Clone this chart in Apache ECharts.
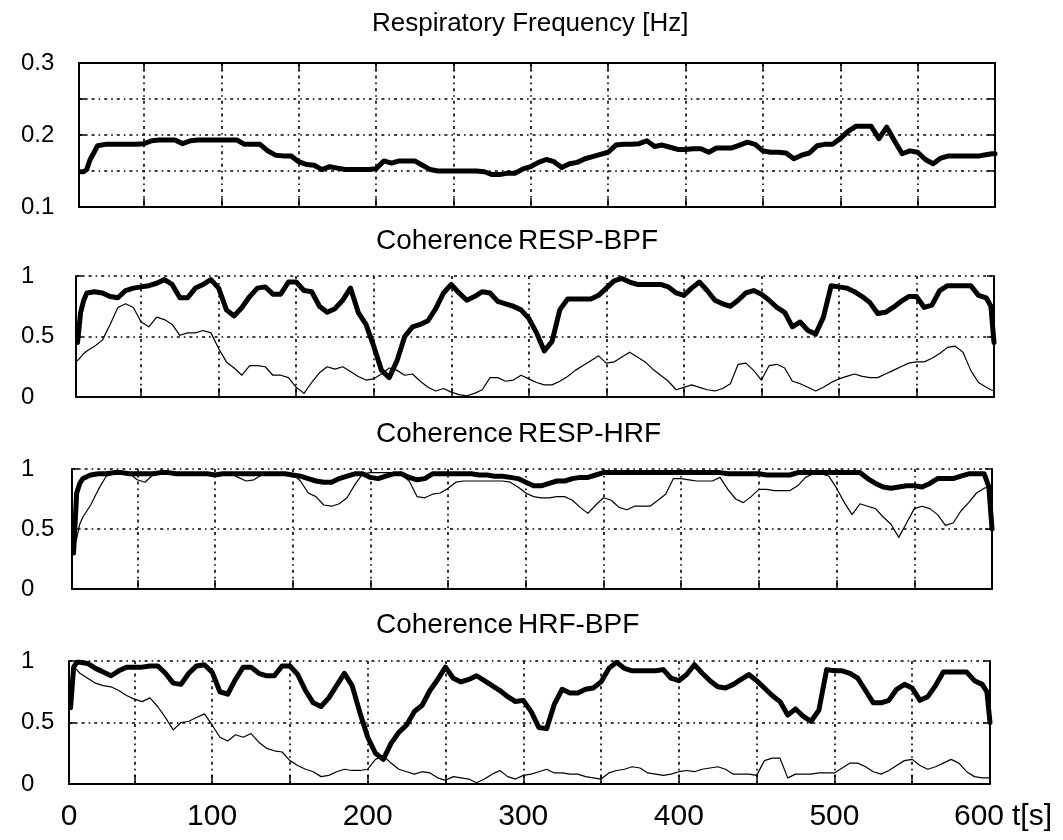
<!DOCTYPE html>
<html><head><meta charset="utf-8">
<script src="https://cdn.jsdelivr.net/npm/echarts@6/dist/echarts.min.js"></script>
<style>html,body{margin:0;padding:0;background:#fff}#c{width:1063px;height:840px}</style>
</head><body><div id="c"></div>
<script>
// time axis [s]
const time = [9,11,13,15,
 20,25,30,35,40,45,50,55,60,65, 70,75,80,85,90,95,100,105,110,115,
 120,125,130,135,140,145,150,155,160,165, 170,175,180,185,190,195,200,205,210,215,
 220,225,230,235,240,245,250,255,260,265, 270,275,280,285,290,295,300,305,310,315,
 320,325,330,335,340,345,350,355,360,365, 370,375,380,385,390,395,400,405,410,415,
 420,425,430,435,440,445,450,455,460,465, 470,475,480,485,490,495,500,505,510,515,
 520,525,530,535,540,545,550,555,560,565, 570,575,580,585,590,595, 598,600];

// Respiratory frequency [Hz]
const respFreq = [0.149,0.149,0.152,0.165,
 0.185,0.187,0.187,0.187,0.187,0.187,0.188,0.192,0.193,0.193,
 0.193,0.188,0.192,0.193,0.193,0.193,0.193,0.193,0.193,0.187,
 0.187,0.187,0.178,0.172,0.171,0.171,0.163,0.159,0.158,0.152,
 0.156,0.154,0.152,0.152,0.152,0.152,0.153,0.164,0.161,0.164,
 0.164,0.164,0.158,0.152,0.150,0.150,0.150,0.150,0.150,0.150,
 0.149,0.145,0.145,0.147,0.147,0.153,0.156,0.162,0.166,0.163,
 0.155,0.160,0.162,0.167,0.170,0.173,0.176,0.186,0.187,0.187,
 0.188,0.192,0.184,0.186,0.183,0.180,0.180,0.181,0.181,0.176,
 0.182,0.182,0.182,0.186,0.190,0.187,0.178,0.176,0.176,0.175,
 0.167,0.172,0.175,0.185,0.187,0.187,0.195,0.205,0.212,0.212,
 0.212,0.195,0.211,0.192,0.174,0.178,0.176,0.166,0.160,0.168,
 0.171,0.171,0.171,0.171,0.171,0.173, 0.174,0.174];

// Coherence RESP-BPF
const respBpfHeavy = [0.45,0.70,0.80,0.86,
 0.87,0.86,0.83,0.82,0.88,0.90,0.91,0.92,0.94,0.97,
 0.93,0.82,0.82,0.90,0.93,0.97,0.90,0.72,0.67,0.74,
 0.83,0.90,0.91,0.85,0.85,0.95,0.95,0.88,0.87,0.75,
 0.70,0.73,0.80,0.90,0.70,0.60,0.42,0.22,0.16,0.30,
 0.50,0.58,0.60,0.63,0.73,0.86,0.93,0.86,0.80,0.83,
 0.87,0.86,0.79,0.77,0.75,0.72,0.65,0.53,0.38,0.46,
 0.72,0.81,0.81,0.81,0.81,0.84,0.90,0.96,0.98,0.95,
 0.93,0.93,0.93,0.93,0.91,0.86,0.84,0.90,0.95,0.88,
 0.80,0.77,0.75,0.80,0.86,0.88,0.85,0.80,0.74,0.70,
 0.58,0.62,0.55,0.52,0.66,0.92,0.91,0.90,0.87,0.83,
 0.78,0.69,0.70,0.74,0.79,0.83,0.83,0.74,0.76,0.88,
 0.92,0.92,0.92,0.92,0.84,0.82, 0.75,0.45];
const respBpfThin = [0.30,0.33,0.36,0.38,
 0.42,0.47,0.60,0.74,0.77,0.74,0.62,0.58,0.66,0.64,
 0.60,0.51,0.53,0.53,0.55,0.53,0.40,0.29,0.24,0.18,
 0.26,0.26,0.25,0.18,0.18,0.16,0.08,0.03,0.12,0.20,
 0.25,0.23,0.25,0.21,0.17,0.14,0.15,0.19,0.24,0.22,
 0.18,0.19,0.13,0.08,0.05,0.07,0.04,0.02,0.01,0.03,
 0.06,0.16,0.16,0.13,0.14,0.18,0.15,0.12,0.10,0.10,
 0.13,0.17,0.22,0.26,0.30,0.34,0.28,0.29,0.33,0.37,
 0.33,0.29,0.23,0.18,0.13,0.06,0.08,0.10,0.08,0.06,
 0.05,0.07,0.11,0.27,0.28,0.22,0.14,0.26,0.27,0.24,
 0.13,0.11,0.08,0.05,0.08,0.12,0.15,0.17,0.19,0.17,
 0.16,0.16,0.19,0.22,0.25,0.28,0.29,0.29,0.32,0.36,
 0.41,0.42,0.37,0.22,0.12,0.08, 0.06,0.05];

// Coherence RESP-HRF
const respHrfHeavy = [0.30,0.80,0.88,0.92,
 0.95,0.96,0.96,0.97,0.97,0.96,0.96,0.96,0.96,0.97,
 0.97,0.96,0.96,0.96,0.96,0.96,0.95,0.96,0.96,0.96,
 0.96,0.96,0.96,0.96,0.96,0.96,0.95,0.94,0.92,0.90,
 0.89,0.89,0.92,0.94,0.96,0.96,0.93,0.92,0.94,0.96,
 0.96,0.93,0.91,0.92,0.96,0.96,0.96,0.96,0.96,0.96,
 0.95,0.95,0.94,0.94,0.93,0.92,0.89,0.86,0.86,0.88,
 0.90,0.90,0.92,0.93,0.93,0.95,0.97,0.97,0.97,0.97,
 0.97,0.97,0.97,0.97,0.97,0.97,0.97,0.97,0.97,0.97,
 0.97,0.97,0.96,0.96,0.96,0.96,0.96,0.95,0.95,0.95,
 0.95,0.97,0.97,0.97,0.97,0.97,0.97,0.97,0.97,0.97,
 0.92,0.88,0.85,0.84,0.85,0.86,0.86,0.85,0.88,0.92,
 0.92,0.92,0.94,0.96,0.96,0.96, 0.85,0.50];
const respHrfThin = [0.35,0.42,0.54,0.60,
 0.70,0.83,0.94,0.96,0.97,0.96,0.91,0.89,0.95,0.96,
 0.96,0.96,0.96,0.96,0.96,0.96,0.96,0.96,0.96,0.93,
 0.90,0.91,0.95,0.96,0.96,0.96,0.96,0.90,0.80,0.77,
 0.70,0.69,0.71,0.76,0.87,0.96,0.97,0.97,0.97,0.97,
 0.95,0.90,0.77,0.76,0.79,0.80,0.84,0.89,0.90,0.90,
 0.90,0.90,0.90,0.90,0.89,0.85,0.80,0.77,0.76,0.76,
 0.77,0.77,0.74,0.68,0.63,0.70,0.76,0.74,0.68,0.66,
 0.69,0.69,0.69,0.74,0.79,0.92,0.92,0.91,0.90,0.90,
 0.90,0.93,0.83,0.75,0.72,0.77,0.83,0.83,0.82,0.82,
 0.82,0.86,0.93,0.96,0.96,0.94,0.84,0.72,0.62,0.71,
 0.69,0.67,0.60,0.54,0.43,0.55,0.67,0.69,0.67,0.62,
 0.53,0.55,0.65,0.72,0.80,0.84, 0.85,0.75];

// Coherence HRF-BPF
const hrfBpfHeavy = [0.62,0.95,0.99,0.99,
 0.98,0.94,0.91,0.88,0.92,0.95,0.95,0.95,0.96,0.96,
 0.90,0.82,0.81,0.90,0.96,0.97,0.91,0.75,0.73,0.85,
 0.95,0.95,0.90,0.88,0.88,0.96,0.96,0.89,0.76,0.66,
 0.63,0.70,0.80,0.90,0.80,0.58,0.38,0.25,0.20,0.33,
 0.42,0.48,0.59,0.64,0.76,0.85,0.95,0.86,0.83,0.85,
 0.88,0.84,0.80,0.76,0.71,0.67,0.68,0.59,0.46,0.45,
 0.65,0.77,0.74,0.74,0.77,0.78,0.83,0.94,0.99,0.94,
 0.92,0.92,0.92,0.92,0.93,0.86,0.84,0.89,0.97,0.90,
 0.84,0.79,0.78,0.81,0.85,0.89,0.84,0.78,0.72,0.67,
 0.56,0.61,0.55,0.51,0.60,0.93,0.92,0.92,0.90,0.86,
 0.76,0.66,0.66,0.68,0.77,0.81,0.78,0.68,0.71,0.80,
 0.91,0.91,0.91,0.91,0.84,0.81, 0.75,0.50];
const hrfBpfThin = [0.75,0.95,0.93,0.90,
 0.86,0.82,0.80,0.79,0.76,0.72,0.69,0.67,0.70,0.63,
 0.54,0.44,0.50,0.51,0.54,0.57,0.48,0.38,0.35,0.40,
 0.38,0.41,0.34,0.29,0.27,0.26,0.19,0.15,0.12,0.10,
 0.06,0.07,0.10,0.12,0.11,0.11,0.12,0.20,0.23,0.17,
 0.12,0.10,0.08,0.10,0.09,0.05,0.03,0.06,0.05,0.04,
 0.01,0.04,0.08,0.11,0.06,0.04,0.07,0.08,0.10,0.12,
 0.09,0.09,0.08,0.08,0.06,0.05,0.04,0.09,0.11,0.12,
 0.14,0.13,0.09,0.08,0.07,0.08,0.10,0.11,0.10,0.12,
 0.13,0.14,0.12,0.08,0.08,0.08,0.07,0.19,0.21,0.21,
 0.05,0.08,0.08,0.08,0.09,0.09,0.09,0.13,0.17,0.17,
 0.14,0.10,0.08,0.11,0.15,0.19,0.20,0.15,0.12,0.14,
 0.17,0.20,0.17,0.10,0.06,0.05, 0.05,0.05];

// ticks and labels
const xTickValues = [50,100,150,200,250,300,350,400,450,500,550];
const xLabelValues = [8,100,200,300,400,500,600];
const xLabelTexts = ['0','100','200','300','400','500','600'];
const xUnit = 't[s]';
const freqTickValues = [0.1,0.2,0.3];
const freqTickTexts = ['0.1','0.2','0.3'];
const cohTickValues = [0,0.5,1];
const cohTickTexts = ['0','0.5','1'];
const titleMain = 'Respiratory Frequency [Hz]';
const titlePrefix = 'Coherence';
const titlePairs = ['RESP-BPF','RESP-HRF','HRF-BPF'];

const FONT = '"Liberation Sans", Arial, sans-serif';
const X_MIN = 8, X_MAX = 600;

const panels = [
  {l:79, t:63, r:995, b:207, yMin:0.1, yMax:0.3, yInt:0.05, lv:freqTickValues, lt:freqTickTexts, topLine:true,
   series:[[respFreq,5]]},
  {l:76, t:276, r:994, b:397, yMin:0, yMax:1, yInt:0.5, lv:cohTickValues, lt:cohTickTexts, topLine:false,
   series:[[respBpfThin,1.2],[respBpfHeavy,5]]},
  {l:72, t:469, r:992, b:589, yMin:0, yMax:1, yInt:0.5, lv:cohTickValues, lt:cohTickTexts, topLine:false,
   series:[[respHrfThin,1.2],[respHrfHeavy,5]]},
  {l:69, t:661, r:990, b:784, yMin:0, yMax:1, yInt:0.5, lv:cohTickValues, lt:cohTickTexts, topLine:false,
   series:[[hrfBpfThin,1.2],[hrfBpfHeavy,5]]}
];

const dash = {color:'#000', width:1.6, type:[3,4,1.6,4]};
const solid = {color:'#000', width:2};
const grid = [], xAxis = [], yAxis = [], series = [];

panels.forEach((p, i) => {
  grid.push({left:p.l, top:p.t, width:p.r - p.l, height:p.b - p.t, containLabel:false});
  const last = i === panels.length - 1;
  xAxis.push({
    gridIndex:i, type:'value', min:X_MIN, max:X_MAX, position:'bottom',
    axisLine:{show:true, onZero:false, lineStyle:solid},
    axisTick:{show:true, inside:true, length:9, customValues:xTickValues, lineStyle:{color:'#000', width:1.5}},
    splitLine:{show:true, lineStyle:dash},
    axisLabel:{show:last, customValues:xLabelValues, margin:18, color:'#000', fontSize:30, fontFamily:FONT,
      formatter:(v)=>{const k = xLabelValues.indexOf(v); const s = k>=0 ? xLabelTexts[k] : ''; return v===X_MAX ? '{e|'+s+'}' : s;},
      rich:{e:{fontSize:30, fontFamily:FONT, color:'#000', padding:[0,22,0,0]}}},
    name: last ? xUnit : '', nameLocation:'end', nameGap:22,
    nameTextStyle:{fontSize:30, fontFamily:FONT, color:'#000', verticalAlign:'top', padding:[18,0,0,0]}
  });
  xAxis.push({
    gridIndex:i, type:'value', min:X_MIN, max:X_MAX, position:'top',
    axisLine:{show:p.topLine, onZero:false, lineStyle:solid},
    axisTick:{show:p.topLine, inside:true, length:8, customValues:xTickValues, lineStyle:{color:'#000', width:1.5}},
    splitLine:{show:false}, axisLabel:{show:false}
  });
  yAxis.push({
    gridIndex:i, type:'value', min:p.yMin, max:p.yMax, interval:p.yInt, position:'left',
    axisLine:{show:true, onZero:false, lineStyle:solid},
    axisTick:{show:true, inside:true, length:7, lineStyle:{color:'#000', width:1.5}},
    splitLine:{show:true, lineStyle:dash},
    axisLabel:{show:true, customValues:p.lv, align:'left', margin:p.l - 21, color:'#000', fontSize:24, fontFamily:FONT,
      formatter:(v)=>{for (let k=0;k<p.lv.length;k++){ if (Math.abs(v-p.lv[k])<1e-9) return p.lt[k]; } return '';}}
  });
  yAxis.push({
    gridIndex:i, type:'value', min:p.yMin, max:p.yMax, interval:p.yInt, position:'right',
    axisLine:{show:true, onZero:false, lineStyle:solid},
    axisTick:{show:true, inside:true, length:7, lineStyle:{color:'#000', width:1.5}},
    splitLine:{show:false}, axisLabel:{show:false}
  });
  p.series.forEach(([arr, w]) => {
    series.push({
      type:'line', xAxisIndex:2*i, yAxisIndex:2*i, showSymbol:false, symbol:'none',
      lineStyle:{color:'#000', width:w, join:'round', cap:'round'}, data: time.map((t, k) => [t, arr[k]]),
      animation:false, silent:true, z: w > 2 ? 3 : 2
    });
  });
});

const titleTops = [222, 415, 606];
const title = [{
  text: titleMain, left: 367, top: 6,
  textStyle:{fontSize:26, fontWeight:'normal', color:'#000', fontFamily:FONT}
}];
titlePairs.forEach((pair, k) => {
  title.push({
    text: '{a|' + titlePrefix + '} {b|' + pair + '}', left: 371, top: titleTops[k],
    textStyle:{fontWeight:'normal', rich:{
      a:{fontSize:28, fontWeight:'normal', color:'#000', fontFamily:FONT},
      b:{fontSize:28, fontWeight:'normal', color:'#000', fontFamily:FONT}}}
  });
});

const chart = echarts.init(document.getElementById('c'), null, {renderer:'canvas'});
chart.setOption({backgroundColor:'#fff', animation:false, title, grid, xAxis, yAxis, series});
</script>
</body></html>
